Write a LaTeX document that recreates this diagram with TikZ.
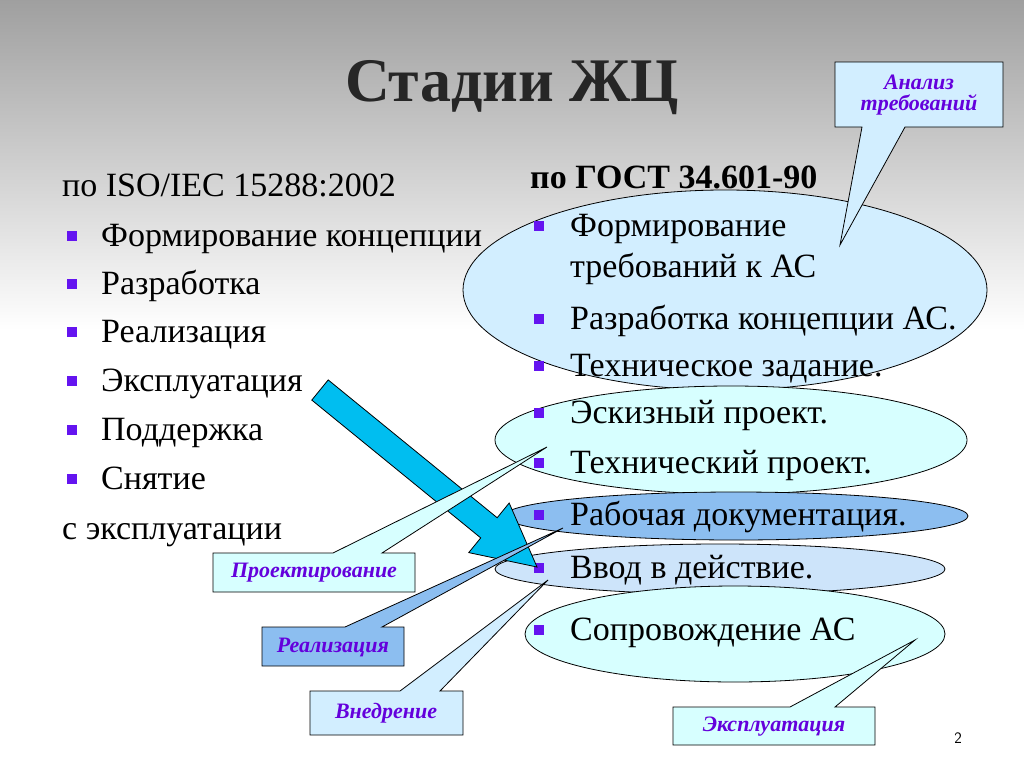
\documentclass[tikz,border=0pt]{standalone}
\usepackage{fontspec}
\setmainfont{Liberation Serif}
\usetikzlibrary{calc}
\definecolor{lc}{RGB}{210,238,255}
\definecolor{cy}{RGB}{215,255,255}
\definecolor{mb}{RGB}{140,190,240}
\definecolor{vv}{RGB}{205,228,250}
\definecolor{ar}{RGB}{0,190,240}
\definecolor{bl}{RGB}{100,20,240}
\definecolor{lbl}{RGB}{100,0,220}
\tikzset{
 ell/.style={draw=black,line width=0.8pt},
 txt/.style={anchor=base west,inner sep=0,font=\fontsize{34}{38}\selectfont},
 bul/.style={fill=bl,minimum size=10pt,inner sep=0},
 call/.style={draw=black,line width=0.8pt},
 clab/.style={font=\fontsize{22}{25}\selectfont\bfseries\itshape,text=lbl,align=center}
}
\begin{document}
\begin{tikzpicture}[x=1pt,y=-1pt]
\useasboundingbox (0,0) rectangle (1024,768);
\fill[white] (0,0) rectangle (1024,768);
\shade[top color=gray!75,bottom color=white] (0,0) rectangle (1024,330);
% title
\node[font=\fontsize{62}{66}\selectfont\bfseries,text=black!85] (title) at (512,88) {Стадии ЖЦ};
% left column
\node[txt] (lh) at (62,196) {по ISO/IEC 15288:2002};
\foreach \y/\t [count=\i] in {246/Формирование концепции,294/Разработка,342/Реализация,391/Эксплуатация,440/Поддержка,489/Снятие}{
 \node[bul] (lb\i) at (72,\y-10) {};
 \node[txt] (lt\i) at (101,\y) {\t};
}
\node[txt] (lend) at (62,539) {с эксплуатации};
% ellipses
\draw[ell,fill=lc] (725,290) ellipse [x radius=262,y radius=100] coordinate (e1);
\draw[ell,fill=cy] (731,440) ellipse [x radius=236,y radius=54] coordinate (e2);
\draw[ell,fill=mb] (736,516) ellipse [x radius=232,y radius=24] coordinate (e3);
\draw[ell,fill=vv] (720,569) ellipse [x radius=225,y radius=25] coordinate (e4);
\draw[ell,fill=cy] (735,634) ellipse [x radius=210,y radius=48] coordinate (e5);
% right column
\node[txt,font=\fontsize{34}{38}\selectfont\bfseries] (rh) at (530,188) {по ГОСТ 34.601-90};
\foreach \y/\t [count=\i] in {236/Формирование,329/Разработка концепции АС.,376/Техническое задание.,423/Эскизный проект.,473/Технический проект.,525/Рабочая документация.,578/Ввод в действие.,640/Сопровождение АС}{
 \node[bul] (rb\i) at (539,\y-10) {};
 \node[txt] (rt\i) at (570,\y) {\t};
}
\node[txt] (rt1b) at (570,277) {требований к АС};
% big arrow
\coordinate (A) at (320,390); \coordinate (B) at (537,567);
\coordinate (H) at ($(B)!62pt!(A)$);
\draw[fill=ar,line width=0.8pt] ($(A)!13pt!90:(B)$) -- ($(H)!13pt!-90:(A)$) -- ($(H)!32pt!-90:(A)$) -- (B) -- ($(H)!32pt!90:(A)$) -- ($(H)!13pt!90:(A)$) -- ($(A)!13pt!-90:(B)$) -- cycle;
% callouts
\draw[call,fill=cy] (213,553) -- (333,553) -- (547,447) -- (382,553) -- (415,553) -- (415,592) -- (213,592) -- cycle;
\node[clab] (c1) at (314,573) {Проектирование};
\draw[call,fill=mb] (262,627) -- (345,627) -- (563,528) -- (382,627) -- (404,627) -- (404,666) -- (262,666) -- cycle;
\node[clab] (c2) at (333,647) {Реализация};
\draw[call,fill=lc] (310,691) -- (400,691) -- (548,580) -- (440,691) -- (463,691) -- (463,735) -- (310,735) -- cycle;
\node[clab] (c3) at (386,713) {Внедрение};
\draw[call,fill=lc] (835,62) -- (1003,62) -- (1003,127) -- (905,127) -- (840,245) -- (862,127) -- (835,127) -- cycle;
\node[clab] (c4) at (919,95) {Анализ\\[-4pt]требований};
\draw[call,fill=cy] (673,707) -- (790,707) -- (915,640) -- (835,707) -- (875,707) -- (875,745) -- (673,745) -- cycle;
\node[clab] (c5) at (774,727) {Эксплуатация};
\node[font=\fontsize{16}{18}\selectfont\sffamily] (pg) at (958,738) {2};
\end{tikzpicture}
\end{document}
